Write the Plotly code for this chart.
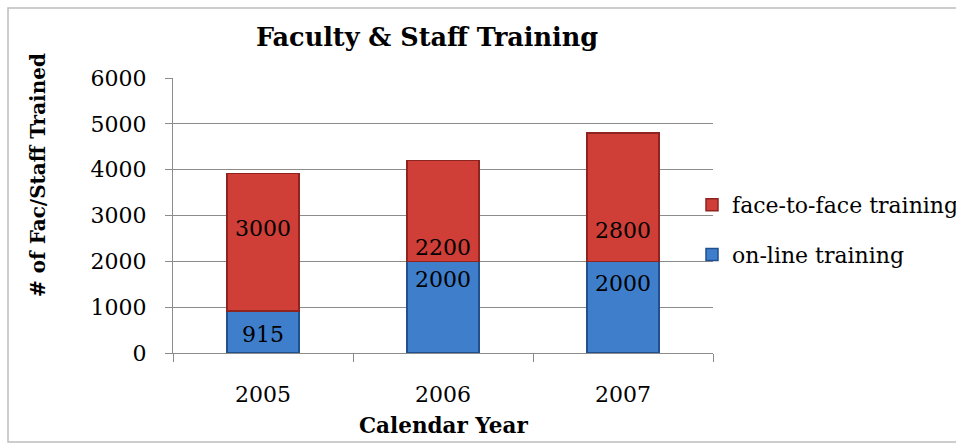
import plotly.graph_objects as go

years = ["2005", "2006", "2007"]
online = [915, 2000, 2000]
face_to_face = [3000, 2200, 2800]
y_ticks = [0, 1000, 2000, 3000, 4000, 5000, 6000]

# label placement within each segment (fraction of segment height) - styling only
online_label_frac = [0.45, 0.80, 0.76]
f2f_label_frac = [0.60, 0.14, 0.24]

xpos = list(range(len(years)))
boundaries = [p - 0.5 for p in xpos] + [xpos[-1] + 0.5]

FONT = "DejaVu Serif"
RED = "#CF3E37"
RED_EDGE = "#8E2420"
BLUE = "#3E7ECA"
BLUE_EDGE = "#21508E"

fig = go.Figure()
fig.add_trace(go.Bar(
    x=xpos, y=online, name="on-line training",
    marker=dict(color=BLUE, line=dict(color=BLUE_EDGE, width=1.5)),
    width=0.4, legendgroup="a", legendrank=2,
))
fig.add_trace(go.Bar(
    x=xpos, y=face_to_face, name="face-to-face training",
    marker=dict(color=RED, line=dict(color=RED_EDGE, width=1.5)),
    width=0.4, legendgroup="b", legendrank=1,
))

annotations = []
for i in xpos:
    annotations.append(dict(x=i, y=online[i] * online_label_frac[i], text=str(online[i]),
                            showarrow=False, font=dict(family=FONT, size=22, color="black")))
    annotations.append(dict(x=i, y=online[i] + face_to_face[i] * f2f_label_frac[i],
                            text=str(face_to_face[i]), showarrow=False,
                            font=dict(family=FONT, size=22, color="black")))

annotations.append(dict(xref="paper", yref="paper", x=(38 - 173) / 540, y=(353 - 175) / 275,
                        text="<b># of Fac/Staff Trained</b>",
                        textangle=-90, showarrow=False, xanchor="center", yanchor="middle",
                        font=dict(family=FONT, size=20, color="black")))
annotations.append(dict(xref="paper", yref="paper", x=(443 - 173) / 540, y=(353 - 425) / 275,
                        text="<b>Calendar Year</b>",
                        showarrow=False, xanchor="center", yanchor="middle",
                        font=dict(family=FONT, size=21.5, color="black")))

fig.update_layout(
    width=956, height=444,
    margin=dict(l=173, r=243, t=78, b=91, autoexpand=False),
    paper_bgcolor="white", plot_bgcolor="white",
    barmode="stack",
    title=dict(text="<b>Faculty & Staff Training</b>", x=427 / 956, xanchor="center",
               y=1 - 37 / 444, yanchor="middle", font=dict(family=FONT, size=25.5, color="black")),
    font=dict(family=FONT, color="black"),
    legend=dict(x=(692 - 173) / 540, xanchor="left", y=(353 - 184) / 275, yanchor="top",
                traceorder="grouped", tracegroupgap=18,
                font=dict(family=FONT, size=22, color="black"),
                bgcolor="rgba(0,0,0,0)"),
    annotations=annotations,
    shapes=[dict(type="rect", xref="paper", yref="paper",
                 x0=(8 - 173) / 540, x1=(970 - 173) / 540,
                 y0=(353 - 442) / 275, y1=(353 - 8) / 275,
                 line=dict(color="#BDBDBD", width=1.5), fillcolor="rgba(0,0,0,0)", layer="below")],
)
fig.update_yaxes(range=[0, 6000], tickvals=y_ticks, showgrid=True, gridcolor="#8C8C8C", gridwidth=1,
                 showline=True, linecolor="#8C8C8C", linewidth=1, ticks="outside", ticklen=7,
                 tickcolor="#8C8C8C", ticklabelstandoff=14, zeroline=False, automargin=False,
                 tickfont=dict(family=FONT, size=22, color="black"))
fig.update_xaxes(range=[boundaries[0], boundaries[-1]], tickvals=xpos, ticktext=years,
                 showline=True, linecolor="#8C8C8C", linewidth=1, showgrid=False, zeroline=False,
                 ticks="outside", ticklen=22, tickcolor="rgba(0,0,0,0)",
                 minor=dict(tickvals=boundaries, ticks="outside", ticklen=8, tickcolor="#8C8C8C",
                            showgrid=False),
                 tickangle=0, automargin=False,
                 tickfont=dict(family=FONT, size=22, color="black"))

fig.write_html("out.html", config={"displayModeBar": False},
               post_script="document.body.style.margin='0';")
